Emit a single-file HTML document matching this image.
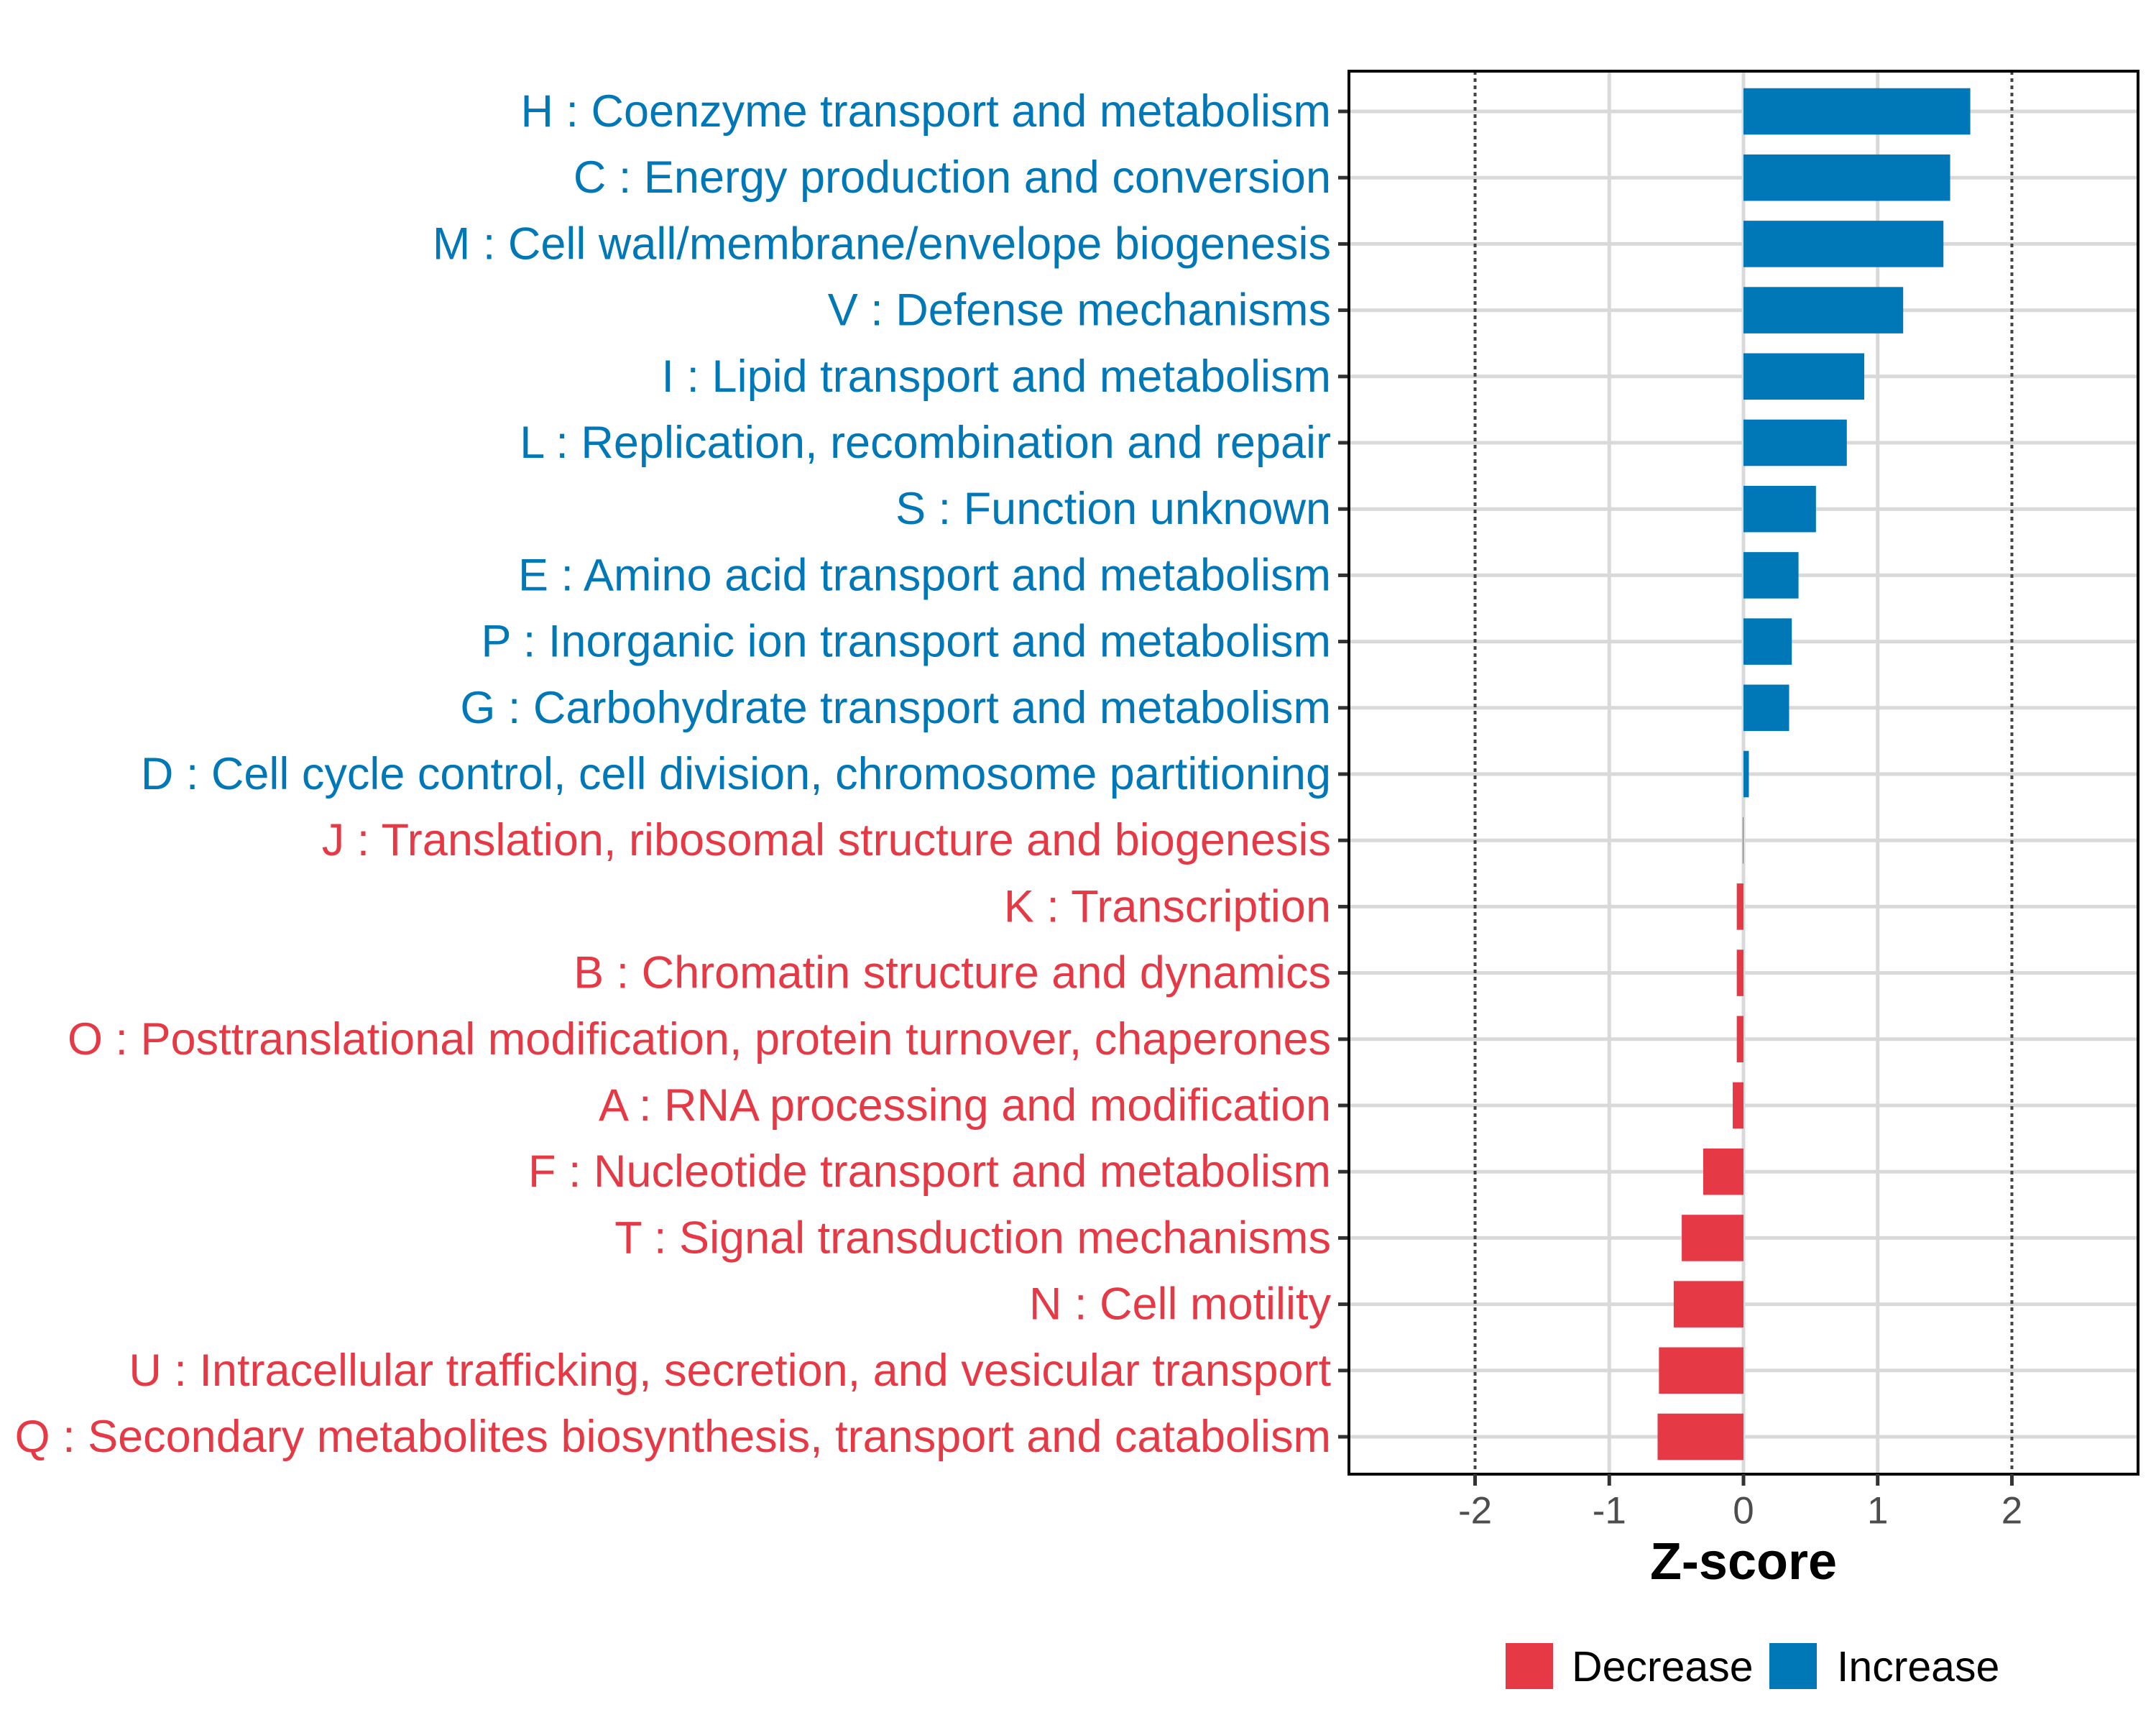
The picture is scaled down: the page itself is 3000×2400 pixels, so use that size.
<!DOCTYPE html>
<html><head><meta charset="utf-8"><style>
html,body{margin:0;padding:0;background:#fff;width:3000px;height:2400px;overflow:hidden}
svg{display:block;font-family:"Liberation Sans",sans-serif}
</style></head><body>
<svg id="chart" width="3000" height="2400" viewBox="0 0 3000 2400" xmlns="http://www.w3.org/2000/svg"></svg>
<script>
const categories = ["H : Coenzyme transport and metabolism","C : Energy production and conversion","M : Cell wall/membrane/envelope biogenesis","V : Defense mechanisms","I : Lipid transport and metabolism","L : Replication, recombination and repair","S : Function unknown","E : Amino acid transport and metabolism","P : Inorganic ion transport and metabolism","G : Carbohydrate transport and metabolism","D : Cell cycle control, cell division, chromosome partitioning","J : Translation, ribosomal structure and biogenesis","K : Transcription","B : Chromatin structure and dynamics","O : Posttranslational modification, protein turnover, chaperones","A : RNA processing and modification","F : Nucleotide transport and metabolism","T : Signal transduction mechanisms","N : Cell motility","U : Intracellular trafficking, secretion, and vesicular transport","Q : Secondary metabolites biosynthesis, transport and catabolism"];
const zscores = [1.69,1.54,1.49,1.19,0.90,0.77,0.54,0.41,0.36,0.34,0.04,-0.005,-0.05,-0.05,-0.05,-0.08,-0.30,-0.46,-0.52,-0.63,-0.64];
const xTicks = [-2,-1,0,1,2];
const xTickLabels = ["-2","-1","0","1","2"];
const BLUE="#0077B6", RED="#E63946";
const NS="http://www.w3.org/2000/svg";
const svg=document.getElementById('chart');
const L=1877,R=2975,T=99,B=2051,XMIN=-2.94,XMAX=2.94;
const x=v=>L+(v-XMIN)/(XMAX-XMIN)*(R-L);
const y0=155,step=(1999-155)/(categories.length-1);
const y=i=>y0+i*step;
function mk(tag,attrs,parent){const e=document.createElementNS(NS,tag);for(const k in attrs)e.setAttribute(k,attrs[k]);(parent||svg).appendChild(e);return e;}
const panel=mk('rect',{x:L,y:T,width:R-L,height:B-T,fill:'#fff'});


xTicks.forEach(t=>{if(Math.abs(t)===2)return;const g=mk('line',{x1:x(t),x2:x(t),y1:T,y2:B,stroke:'#d9d9d9','stroke-width':5});

});
categories.forEach((c,i)=>{const g=mk('line',{x1:L,x2:R,y1:y(i),y2:y(i),stroke:'#d9d9d9','stroke-width':5});

});
[-2,2].forEach(t=>{const d=mk('line',{x1:x(t),x2:x(t),y1:T,y2:B,stroke:'#444','stroke-width':4,'stroke-dasharray':'5 5'});

});
const bh=step*0.7;
zscores.forEach((v,i)=>{const col=v>=0?BLUE:RED;const b=mk('rect',{x:Math.min(x(0),x(v)),y:y(i)-bh/2,width:Math.abs(x(v)-x(0)),height:bh,fill:col});


const t=mk('text',{x:1852,y:y(i),'text-anchor':'end','dominant-baseline':'central','font-size':63,fill:col});t.textContent=categories[i];


const tk=mk('line',{x1:1862,x2:L,y1:y(i),y2:y(i),stroke:'#333','stroke-width':5});

});
const border=mk('rect',{x:L,y:T,width:R-L,height:B-T,fill:'none',stroke:'#000','stroke-width':4});


xTicks.forEach((t,i)=>{const tk=mk('line',{x1:x(t),x2:x(t),y1:B,y2:B+16,stroke:'#333','stroke-width':5});


const lb=mk('text',{x:x(t),y:2102,'text-anchor':'middle','dominant-baseline':'central','font-size':53,fill:'#4d4d4d'});lb.textContent=xTickLabels[i];

});
const xt=mk('text',{x:x(0),y:2173,'text-anchor':'middle','dominant-baseline':'central','font-size':72,'font-weight':'bold',fill:'#000'});xt.textContent='Z-score';


const lg=mk('g',{});


[[2095,RED,2187,'Decrease'],[2462,BLUE,2556,'Increase']].forEach(([rx,col,tx,lab])=>{
const r=mk('rect',{x:rx,y:2286,width:66,height:64,fill:col},lg);


const t=mk('text',{x:tx,y:2319,'dominant-baseline':'central','font-size':59,fill:'#000'},lg);t.textContent=lab;

});
</script>
</body></html>
